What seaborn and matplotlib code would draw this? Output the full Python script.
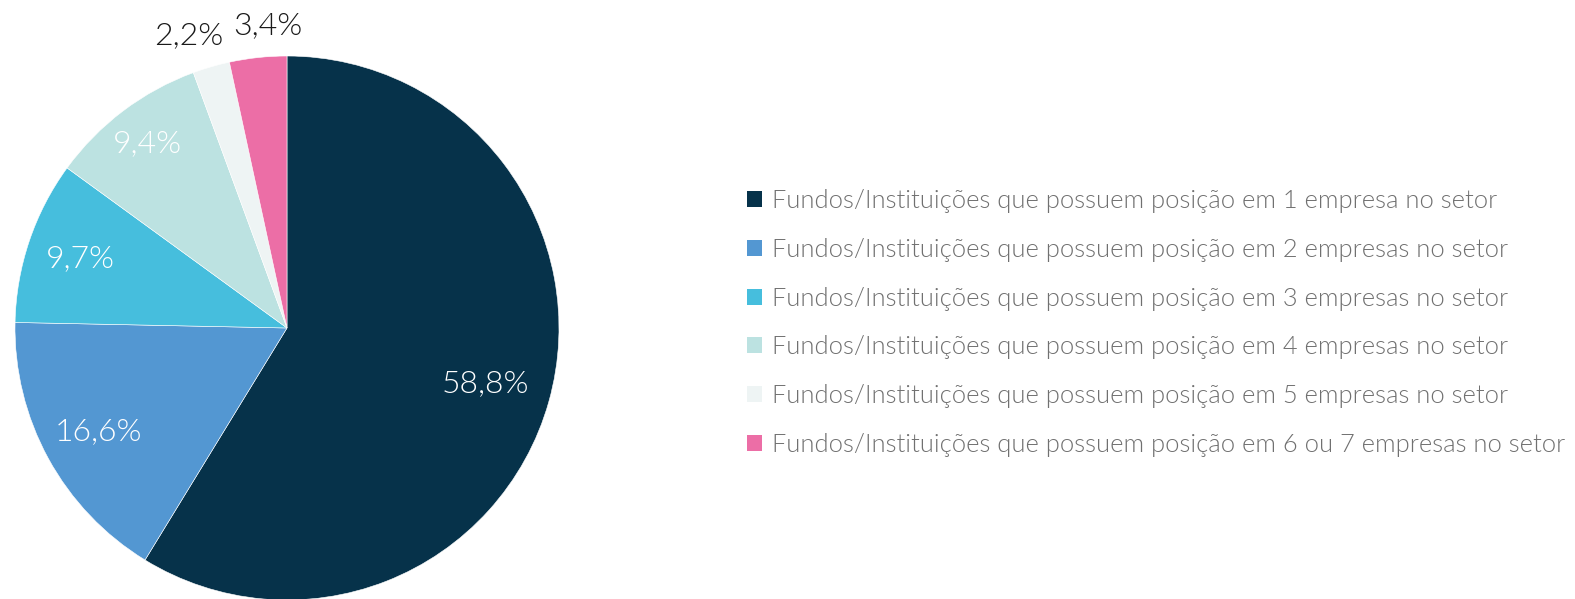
import numpy as np
import seaborn as sns
import matplotlib.pyplot as plt
from matplotlib.patches import Patch

# Data
labels = [
    "Fundos/Instituições que possuem posição em 1 empresa no setor",
    "Fundos/Instituições que possuem posição em 2 empresas no setor",
    "Fundos/Instituições que possuem posição em 3 empresas no setor",
    "Fundos/Instituições que possuem posição em 4 empresas no setor",
    "Fundos/Instituições que possuem posição em 5 empresas no setor",
    "Fundos/Instituições que possuem posição em 6 ou 7 empresas no setor",
]
shares = [58.8, 16.6, 9.7, 9.4, 2.2, 3.4]
pct_text = ["58,8%", "16,6%", "9,7%", "9,4%", "2,2%", "3,4%"]
colors = ["#06324a", "#5397d2", "#46bedd", "#bce2e1", "#eef4f4", "#ec6ea6"]

sns.set_theme(style="white")
plt.rcParams["font.family"] = ["Lato", "DejaVu Sans"]

fig = plt.figure(figsize=(15.75, 5.99), dpi=100)
# pie axes: centre (287, 328) px, radius 272 px
ax = fig.add_axes([15 / 1575, (599 - 328 - 272) / 599, 544 / 1575, 544 / 599])

palette = sns.color_palette(colors)
wedges, _ = ax.pie(shares, colors=palette, startangle=90, counterclock=False,
                   radius=1, wedgeprops=dict(edgecolor="white", linewidth=0.4))
ax.set_xlim(-1, 1)
ax.set_ylim(-1, 1)
ax.set_aspect("equal")
ax.axis("off")

# percentage labels
dist = [0.76, 0.79, 0.80, 0.85, 1.12, 1.12]
for w, txt, d, i in zip(wedges, pct_text, dist, range(len(shares))):
    ang = np.deg2rad((w.theta1 + w.theta2) / 2)
    x, y = d * np.cos(ang), d * np.sin(ang)
    if i == 4:
        x -= 0.05
    if i == 5:
        x += 0.05
    col = "white" if i < 4 else "#1a1a1a"
    ax.text(x, y, txt, ha="center", va="center", fontsize=23, color=col,
            fontweight=300)

handles = [Patch(facecolor=c, edgecolor="none") for c in colors]
leg = fig.legend(handles, labels, loc="center left", bbox_to_anchor=(747 / 1575, 1 - 323 / 599),
                 frameon=False, prop=dict(size=18.4, weight=300),
                 handlelength=0.58, handleheight=0.58,
                 handletextpad=0.38, labelspacing=0.97, borderpad=0, borderaxespad=0)
for t in leg.get_texts():
    t.set_color("#707070")

plt.savefig("out.png", dpi=100)
plt.close()
